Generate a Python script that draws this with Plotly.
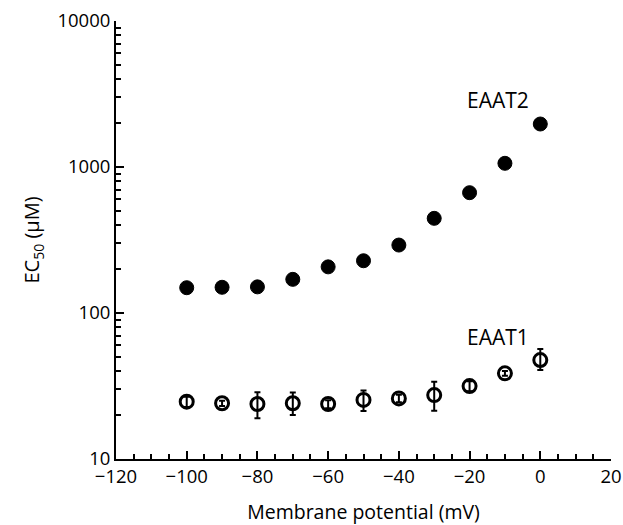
import plotly.graph_objects as go

potential = [-100, -90, -80, -70, -60, -50, -40, -30, -20, -10, 0]
eaat2 = [149, 150, 151, 170, 207, 228, 292, 445, 667, 1060, 1970]
eaat2_err = [8, 8, 8, 8, 8, 10, 15, 25, 40, 60, 100]
eaat1 = [24.7, 24.1, 23.8, 24.1, 23.8, 25.4, 26.0, 27.4, 31.6, 38.6, 47.6]
eaat1_err_up = [2.0, 1.0, 4.9, 4.4, 1.5, 4.0, 1.5, 6.4, 2.5, 1.5, 9.0]
eaat1_err_dn = [2.0, 1.0, 4.8, 4.1, 1.5, 4.1, 1.5, 6.0, 2.5, 1.5, 6.9]
y_tickvals = [10, 100, 1000, 10000]
y_ticktext = ["10", "100", "1000", "10000"]

font_family = "Open Sans, DejaVu Sans, sans-serif"

fig = go.Figure()
fig.add_trace(go.Scatter(
    x=potential, y=eaat2, mode="markers",
    marker=dict(symbol="circle", size=14, color="black", line=dict(color="black", width=1)),
    error_y=dict(type="data", array=eaat2_err, color="black", thickness=2, width=3),
    showlegend=False,
))
fig.add_trace(go.Scatter(
    x=potential, y=eaat1, mode="markers",
    marker=dict(symbol="circle-open", size=13, color="black", line=dict(color="black", width=3)),
    error_y=dict(type="data", symmetric=False, array=eaat1_err_up, arrayminus=eaat1_err_dn,
                 color="black", thickness=2, width=3),
    showlegend=False,
))

fig.add_annotation(x=-12, y=3.459, text="EAAT2", showarrow=False,
                   font=dict(size=21, color="black", family=font_family))
fig.add_annotation(x=-12, y=1.836, text="EAAT1", showarrow=False,
                   font=dict(size=21, color="black", family=font_family))

fig.update_layout(
    width=623, height=525,
    margin=dict(l=116, r=12, t=21, b=66),
    plot_bgcolor="white", paper_bgcolor="white",
    font=dict(family=font_family, size=18, color="black"),
)
fig.update_xaxes(
    range=[-120, 20], tickvals=[-120, -100, -80, -60, -40, -20, 0, 20],
    ticks="inside", ticklen=8, tickwidth=1.5, tickcolor="black",
    minor=dict(dtick=5, tick0=0, ticks="inside", ticklen=5, tickwidth=1.5, tickcolor="black"),
    showline=True, linecolor="black", linewidth=2, showgrid=False, zeroline=False,
    title=dict(text="Membrane potential (mV)", font=dict(size=19.5), standoff=18),
    tickfont=dict(size=18.5),
    automargin=False,
)
fig.update_yaxes(
    type="log", range=[1, 4], tickvals=y_tickvals, ticktext=y_ticktext,
    ticks="inside", ticklen=8, tickwidth=1.5, tickcolor="black",
    minor=dict(dtick="D1", ticks="inside", ticklen=5, tickwidth=1.5, tickcolor="black"),
    showline=True, linecolor="black", linewidth=2, showgrid=False, zeroline=False,
    title=dict(text="EC<sub>50</sub> (μM)", font=dict(size=20), standoff=12),
    tickfont=dict(size=18.5),
    automargin=False,
)

fig.write_html("out.html")
